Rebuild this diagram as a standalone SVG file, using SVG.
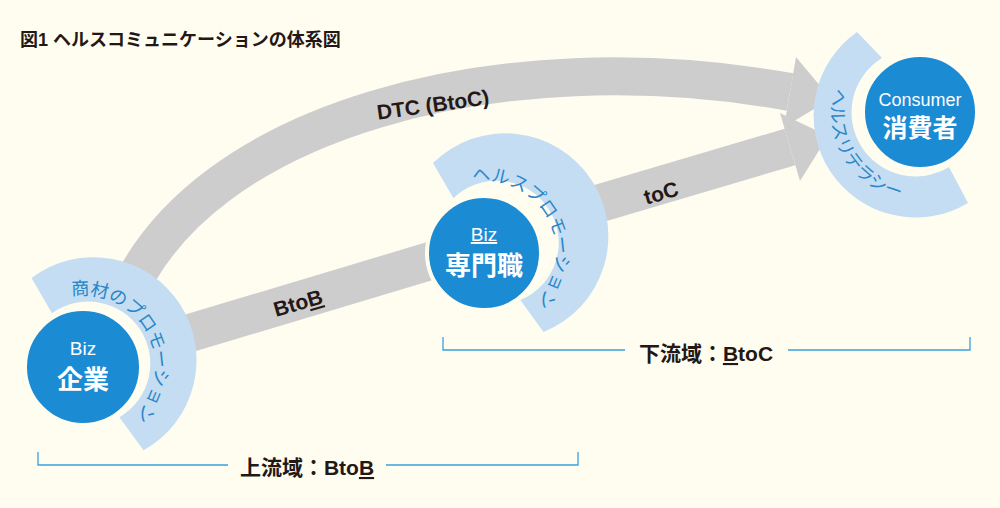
<svg xmlns="http://www.w3.org/2000/svg" xmlns:xlink="http://www.w3.org/1999/xlink" width="1000" height="508" viewBox="0 0 1000 508">
<style>
text{font-family:"Liberation Sans","Noto Sans CJK JP",sans-serif}
.band{fill:#c4ddf2}
.circ{fill:#1b8bd4;stroke:#fffdf0;stroke-width:4}
.wt{fill:#fff;text-anchor:middle}
.arc{fill:#2a86c8;font-size:18px}
.flow{fill:none;stroke:#cdcdcd;stroke-width:38}
.head{fill:#cdcdcd}
.lbl{fill:#231815;font-weight:bold;font-size:21px;text-anchor:middle}
.br{fill:none;stroke:#3aa0e0;stroke-width:1.3}
</style>
<rect width="1000" height="508" fill="#fffdf0"/>
<text x="20" y="46" font-size="18" font-weight="bold" fill="#231815">図1 ヘルスコミュニケーションの体系図</text>
<g id="connectors">
<path class="flow" d="M125,300 C200,120 500,40 790,92"/>
<polygon class="head" points="784,127 796,57 831,99"/>
<path class="flow" d="M150,345 L450,255"/>
<path class="flow" d="M560,215 L790,147"/>
<polygon class="head" points="800,181 780,113 828,136"/>
<text class="lbl" transform="translate(434,112) rotate(-8)" font-size="22">DTC (BtoC)</text>
<text class="lbl" transform="translate(300,310) rotate(-16)">Bto<tspan text-decoration="underline">B</tspan></text>
<text class="lbl" transform="translate(663,200) rotate(-16)">toC</text>
</g>
<g id="node-kigyo">
<path class="band" d="M31.5,278 A103,103 0 1 1 143.5,450.3 L119.4,417.2 A62,62 0 1 0 52,313.3 Z"/>
<circle class="circ" cx="83" cy="367" r="58"/>
<path id="p1" fill="none" d="M71.7,295.9 A72,72 0 0 1 119,429.4"/>
<text class="arc"><textPath xlink:href="#p1">商材のプロモーション</textPath></text>
<text class="wt" x="83" y="355" font-size="19">Biz</text>
<text class="wt" x="83" y="389" font-size="26" font-weight="bold">企業</text>
</g>
<g id="node-senmon">
<path class="band" d="M433,163 A103,103 0 1 1 543.5,332 L520.3,300 A62,62 0 1 0 453.5,198.2 Z"/>
<circle class="circ" cx="484" cy="253" r="57"/>
<path id="p2" fill="none" d="M472.7,181.9 A72,72 0 0 1 520,315.4"/>
<text class="arc"><textPath xlink:href="#p2">ヘルスプロモーション</textPath></text>
<text class="wt" x="484" y="241" font-size="19" text-decoration="underline">Biz</text>
<text class="wt" x="484" y="275" font-size="26" font-weight="bold">専門職</text>
</g>
<g id="node-consumer">
<path class="band" d="M857,32 A102,102 0 0 0 968,203 L949,167 A62,62 0 0 1 882,58 Z"/>
<circle class="circ" cx="920" cy="112" r="57"/>
<path id="p3" fill="none" d="M834.5,88 A88,88 0 0 0 942.8,197"/>
<text class="arc"><textPath xlink:href="#p3">ヘルスリテラシー</textPath></text>
<text class="wt" x="920" y="106" font-size="18">Consumer</text>
<text class="wt" x="920" y="137" font-size="25" font-weight="bold">消費者</text>
</g>
<g id="brackets">
<path class="br" d="M38,452 V465 H228 M386,465 H578 V452"/>
<text class="lbl" x="307" y="475">上流域：Bto<tspan text-decoration="underline">B</tspan></text>
<path class="br" d="M443,337 V350 H625 M788,350 H970 V337"/>
<text class="lbl" x="706" y="361">下流域：<tspan text-decoration="underline">B</tspan>toC</text>
</g>
</svg>
